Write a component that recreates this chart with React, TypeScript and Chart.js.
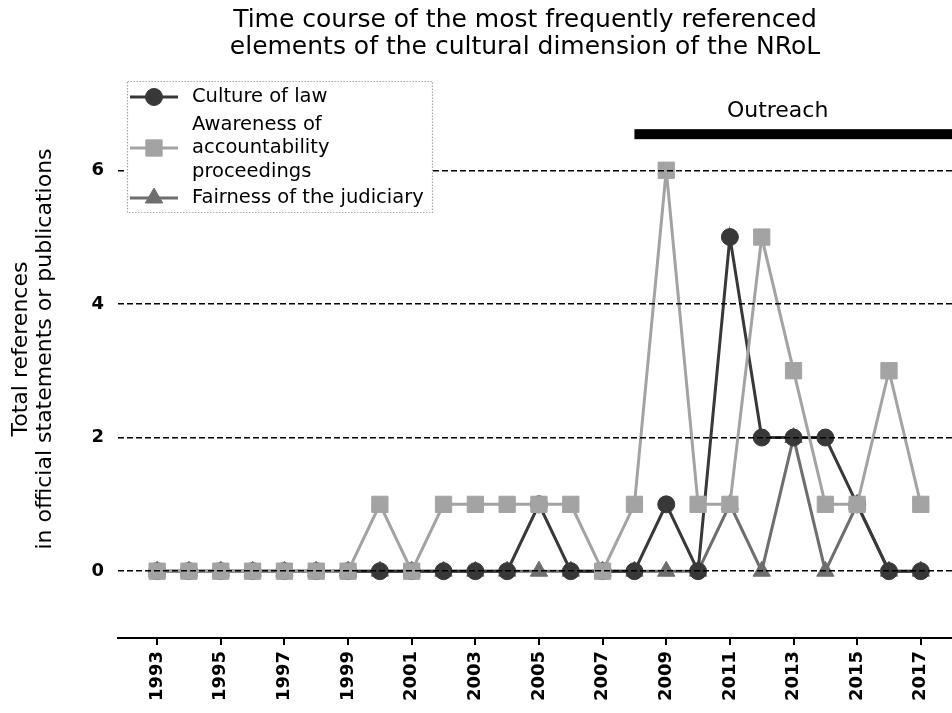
import React, { useEffect, useRef } from 'react';
import { Chart, registerables } from 'chart.js';

Chart.register(...registerables);

const years = [1993, 1994, 1995, 1996, 1997, 1998, 1999, 2000, 2001, 2002, 2003, 2004, 2005, 2006, 2007, 2008, 2009, 2010, 2011, 2012, 2013, 2014, 2015, 2016, 2017];
const cultureOfLaw = [0, 0, 0, 0, 0, 0, 0, 0, 0, 0, 0, 0, 1, 0, 0, 0, 1, 0, 5, 2, 2, 2, 1, 0, 0];
const awarenessAccountability = [0, 0, 0, 0, 0, 0, 0, 1, 0, 1, 1, 1, 1, 1, 0, 1, 6, 1, 1, 5, 3, 1, 1, 3, 1];
const fairnessJudiciary = [0, 0, 0, 0, 0, 0, 0, 0, 0, 0, 0, 0, 0, 0, 0, 0, 0, 0, 1, 0, 2, 0, 1, 0, 0];

const seriesNames = ['Culture of law', 'Awareness of accountability proceedings', 'Fairness of the judiciary'];
const legendLines = [['Culture of law'], ['Awareness of', 'accountability', 'proceedings'], ['Fairness of the judiciary']];
const xTickYears = [1993, 1995, 1997, 1999, 2001, 2003, 2005, 2007, 2009, 2011, 2013, 2015, 2017];
const yTickValues = [0, 2, 4, 6];
const titleLines = ['Time course of the most frequently referenced', 'elements of the cultural dimension of the NRoL'];
const yTitleLines = ['Total references', 'in official statements or publications'];
const outreachLabel = 'Outreach';
const outreachStart = 2008;
const outreachLabelX = 2012.5;
const outreachLabelY = 6.88;
const outreachBarY = 6.54;

const FONT = "'DejaVu Sans', 'Liberation Sans', sans-serif";
const colors = ['#383838', '#a3a3a3', '#6e6e6e'];
const styles = ['circle', 'rect', 'triangle'];
const radii = [8.5, 11.5, 10];

function drawMarker(c: CanvasRenderingContext2D, style: string, x: number, y: number, r: number) {
  c.beginPath();
  if (style === 'circle') {
    c.arc(x, y, r, 0, Math.PI * 2);
  } else if (style === 'rect') {
    const s = Math.SQRT1_2 * r;
    c.rect(x - s, y - s, 2 * s, 2 * s);
  } else {
    let rad = 0;
    const step = (Math.PI * 2) / 3;
    c.moveTo(x + Math.sin(rad) * r, y - Math.cos(rad) * r);
    rad += step;
    c.lineTo(x + Math.sin(rad) * r, y - Math.cos(rad) * r);
    rad += step;
    c.lineTo(x + Math.sin(rad) * r, y - Math.cos(rad) * r);
    c.closePath();
  }
  c.fill();
  c.stroke();
}

export default function App() {
  const ref = useRef<HTMLCanvasElement>(null);

  useEffect(() => {
    document.body.style.margin = '0';
    const canvas = ref.current;
    if (!canvas) return;

    const overlay = {
      id: 'overlay',
      afterDraw(chart: any) {
        const c: CanvasRenderingContext2D = chart.ctx;
        const xs = chart.scales.x;
        const ys = chart.scales.y;
        const area = chart.chartArea;
        c.save();
        // Outreach bar + label
        c.fillStyle = '#000';
        const x0 = xs.getPixelForValue(outreachStart);
        const yb = ys.getPixelForValue(outreachBarY);
        c.fillRect(x0, yb - 5, area.right - x0, 10);
        c.font = `22px ${FONT}`;
        c.textAlign = 'center';
        c.textBaseline = 'middle';
        c.fillText(outreachLabel, xs.getPixelForValue(outreachLabelX), ys.getPixelForValue(outreachLabelY));

        // Title
        c.font = `25px ${FONT}`;
        c.fillText(titleLines[0], 525, 20);
        c.fillText(titleLines[1], 525, 47);

        // Legend
        const lx = 127, ly = 81, lw = 305, lh = 131;
        c.fillStyle = '#fff';
        c.fillRect(lx, ly, lw, lh);
        c.strokeStyle = '#a8a8a8';
        c.lineWidth = 1.2;
        c.setLineDash([1.5, 1.5]);
        c.strokeRect(lx + 0.5, ly + 0.5, lw, lh);
        c.setLineDash([]);
        const rowCenters = [97, 148, 198];
        const lineYs = [[97], [124.5, 148, 171.5], [198]];
        c.font = `19.5px ${FONT}`;
        c.textAlign = 'left';
        for (let i = 0; i < 3; i++) {
          const cy = rowCenters[i];
          c.strokeStyle = colors[i];
          c.lineWidth = 3;
          c.beginPath();
          c.moveTo(130, cy);
          c.lineTo(178, cy);
          c.stroke();
          c.fillStyle = colors[i];
          c.lineWidth = 1;
          drawMarker(c, styles[i], 154, cy, radii[i]);
          c.fillStyle = '#000';
          legendLines[i].forEach((t, k) => c.fillText(t, 192, lineYs[i][k]));
        }
        c.restore();
      },
    };

    const makeData = (vals: number[]) => years.map((y, i) => ({ x: y, y: vals[i] }));
    const allSeries = [cultureOfLaw, awarenessAccountability, fairnessJudiciary];
    const orders = [1, 0, 2];

    const chart = new Chart(canvas, {
      type: 'line',
      data: {
        datasets: allSeries.map((vals, i) => ({
          label: seriesNames[i],
          data: makeData(vals),
          borderColor: colors[i],
          backgroundColor: colors[i],
          borderWidth: 3,
          pointStyle: styles[i] as any,
          pointRadius: radii[i],
          pointHoverRadius: radii[i],
          pointBackgroundColor: colors[i],
          pointBorderColor: colors[i],
          pointBorderWidth: 1,
          tension: 0,
          order: orders[i],
        })),
      },
      options: {
        responsive: false,
        animation: false,
        devicePixelRatio: 1,
        layout: { autoPadding: false, padding: { top: 60, left: 0, right: 0, bottom: 0 } },
        plugins: {
          legend: { display: false },
          title: { display: false },
          tooltip: { enabled: false },
        },
        scales: {
          x: {
            type: 'linear',
            min: 1991.77,
            max: 2017.98,
            afterBuildTicks: (s: any) => {
              s.ticks = xTickYears.map((v) => ({ value: v }));
            },
            afterFit: (s: any) => {
              s.height = 75;
              s.paddingLeft = 0;
              s.paddingRight = 0;
            },
            ticks: {
              autoSkip: false,
              minRotation: 90,
              maxRotation: 90,
              padding: 6,
              color: '#000',
              font: { family: FONT, size: 18, weight: 'bold' },
              callback: (v: any) => String(v),
            },
            grid: {
              display: true,
              drawOnChartArea: false,
              drawTicks: true,
              tickLength: 7,
              color: '#000',
              lineWidth: 2,
            },
            border: { display: true, color: '#000', width: 2 },
          },
          y: {
            type: 'linear',
            min: -1,
            max: 7.65,
            afterBuildTicks: (s: any) => {
              s.ticks = yTickValues.map((v) => ({ value: v }));
            },
            afterFit: (s: any) => {
              s.width = 118;
              s.paddingTop = 0;
              s.paddingBottom = 0;
            },
            ticks: {
              padding: 14,
              color: '#000',
              font: { family: FONT, size: 18, weight: 'bold' },
              callback: (v: any) => String(v),
            },
            grid: {
              color: '#000',
              lineWidth: 1.5,
              drawTicks: false,
              tickLength: 0,
              z: 1,
            },
            border: { display: false, dash: [6, 3] },
            title: {
              display: true,
              text: yTitleLines,
              color: '#000',
              font: { family: FONT, size: 22, lineHeight: 1.1 },
              padding: { top: 9, bottom: 0 },
            },
          },
        },
      },
      plugins: [overlay],
    });

    return () => chart.destroy();
  }, []);

  return (
    <div style={{ width: 952, height: 713 }}>
      <canvas ref={ref} width={952} height={713} style={{ display: 'block', width: 952, height: 713 }} />
    </div>
  );
}
